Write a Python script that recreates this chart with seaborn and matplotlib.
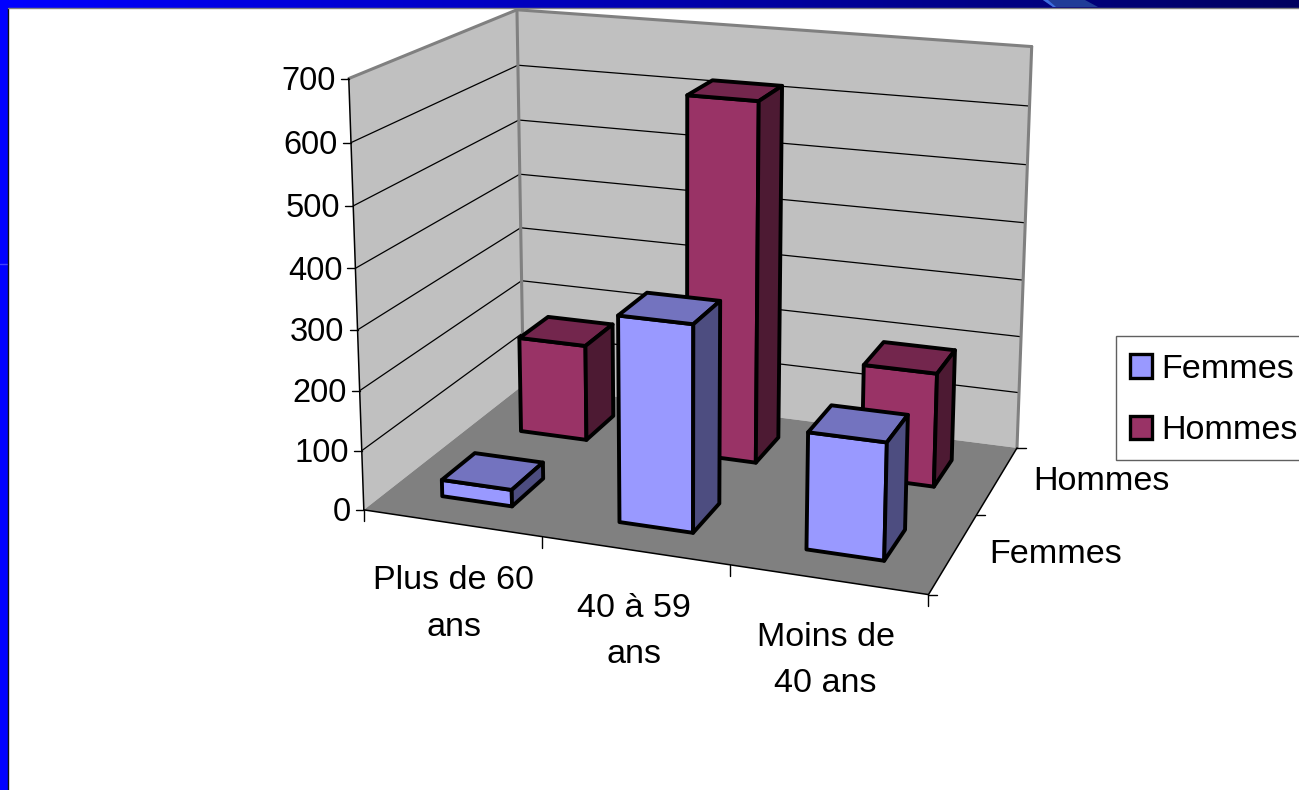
import numpy as np
import matplotlib
matplotlib.use('Agg')
import matplotlib.pyplot as plt
from matplotlib.colors import LinearSegmentedColormap
from matplotlib.patches import Patch, Rectangle, Polygon
import seaborn as sns

# data
categories = ['Plus de 60\nans', '40 à 59\nans', 'Moins de\n40 ans']
series = ['Femmes', 'Hommes']
femmes = [28, 340, 190]
hommes = [170, 622, 195]
z_ticks = [0, 100, 200, 300, 400, 500, 600, 700]

sns.set_theme(style='white')
plt.rcParams['font.family'] = ['Liberation Sans', 'DejaVu Sans']
plt.rcParams['text.color'] = 'black'
FS = 24.6
colors = sns.color_palette(['#9999FF', '#993366'])

# where the corners of the 3d box land in the picture, (cat, series, value) -> pixel
corners = [((0, 0, 0), (365, 510)), ((3, 0, 0), (928, 595)), ((3, 2, 0), (1018, 447)),
           ((0, 2, 0), (522, 385)), ((0, 0, 700), (348, 78)), ((0, 2, 700), (518, 10)),
           ((3, 2, 700), (1032, 45)), ((3, 2, 600), (1029, 108)), ((3, 2, 500), (1027, 165))]
A, b = [], []
for (X, Y, Z), (u, v) in corners:
    A.append([X, Y, Z, 1, 0, 0, 0, 0, -u * X, -u * Y, -u * Z])
    A.append([0, 0, 0, 0, X, Y, Z, 1, -v * X, -v * Y, -v * Z])
    b += [u, v]
P = np.append(np.linalg.lstsq(np.array(A, float), np.array(b, float), rcond=None)[0], 1).reshape(3, 4)


def proj(X, Y, Z):
    u, v, w = P @ np.array([X, Y, Z, 1.0])
    return u / w, v / w


fig = plt.figure(figsize=(12.99, 7.9), dpi=100)
ax = fig.add_axes([0, 0, 1, 1])

# slide background
cmap = LinearSegmentedColormap.from_list('frame', ['#0000FF', '#000060'])
ax.imshow(np.linspace(0, 1, 400).reshape(1, -1), cmap=cmap, extent=(0, 1299, 790, 0), aspect='auto', zorder=0)
ax.add_patch(Polygon([(1043, 0), (1085, 0), (1098, 7), (1053, 7)], fc='#203C98', ec='none', zorder=1))
ax.add_patch(Polygon([(1043, 0), (1048, 0), (1056, 7), (1053, 7)], fc='#3C6CE0', ec='none', zorder=1))
ax.add_patch(Rectangle((0, 0), 8, 790, fc='#0000FF', ec='none', zorder=1))
ax.plot([0, 8], [264, 264], color='#4040FF', lw=1, zorder=2)
ax.add_patch(Rectangle((8, 8), 1291, 782, fc='white', ec='none', zorder=1))
ax.plot([8.5, 8.5], [8, 790], color='#101010', lw=1, zorder=2)
ax.plot([8, 1299], [8, 8], color='#808080', lw=1, zorder=2)


def face(pts, color, z=3, ec='none', lw=0):
    ax.add_patch(Polygon([proj(*p) for p in pts], closed=True, fc=color, ec=ec, lw=lw, zorder=z, joinstyle='round'))


def line(p, q, color='black', lw=1, z=4):
    a, c = proj(*p), proj(*q)
    ax.plot([a[0], c[0]], [a[1], c[1]], color=color, lw=lw, zorder=z, solid_capstyle='round')


# walls and floor
face([(0, 0, 0), (0, 2, 0), (0, 2, 700), (0, 0, 700)], '#C0C0C0')
face([(0, 2, 0), (3, 2, 0), (3, 2, 700), (0, 2, 700)], '#C0C0C0')
face([(0, 0, 0), (3, 0, 0), (3, 2, 0), (0, 2, 0)], '#808080')
for z in z_ticks[1:-1]:
    line((0, 0, z), (0, 2, z), lw=0.9)
    line((0, 2, z), (3, 2, z), lw=0.9)
for p, q in [((0, 0, 700), (0, 2, 700)), ((0, 2, 700), (3, 2, 700)), ((0, 2, 0), (0, 2, 700)), ((3, 2, 0), (3, 2, 700))]:
    line(p, q, color='#808080', lw=2.2, z=5)

# axis lines and ticks
line((0, 0, 0), (0, 0, 700), lw=1.1, z=6)
line((0, 0, 0), (3, 0, 0), lw=1.1, z=6)
line((3, 0, 0), (3, 2, 0), lw=1.1, z=6)
for z in z_ticks:
    x, y = proj(0, 0, z)
    ax.plot([x - 8, x], [y, y], color='black', lw=1, zorder=6)
    ax.text(x - 13, y + 3, str(z), ha='right', va='center', fontsize=23.5, color='black', zorder=7)
for i in range(4):
    x, y = proj(i, 0, 0)
    ax.plot([x, x], [y, y + 11], color='black', lw=1, zorder=6)
for i in range(3):
    x, y = proj(3, i, 0)
    ax.plot([x, x + 9], [y, y], color='black', lw=1, zorder=6)

# category and series labels
label_dx = [2, 0, -2]
for i, name in enumerate(categories):
    x, y = proj(i + 0.5, 0, 0)
    ax.text(x + label_dx[i], y + 81, name, ha='center', va='center', fontsize=FS, linespacing=1.65, zorder=7)
for j, name in enumerate(series):
    x, y = proj(3, j + 0.5, 0)
    ax.text(x + 36, y + 1, name, ha='left', va='center', fontsize=FS, zorder=7)


def darker(c, k):
    return tuple(v * k for v in c)


# bars, back row first
BW = 0.4
zo = 10
for j, vals in [(1, hommes), (0, femmes)]:
    for i, h in enumerate(vals):
        x0, x1 = i + 0.5 - BW / 2, i + 0.5 + BW / 2
        y0, y1 = j + 0.5 - BW / 2, j + 0.5 + BW / 2
        edge = dict(ec='black', lw=2.8, z=zo)
        face([(x0, y0, 0), (x1, y0, 0), (x1, y0, h), (x0, y0, h)], colors[j], **edge)
        face([(x0, y0, h), (x1, y0, h), (x1, y1, h), (x0, y1, h)], darker(colors[j], 0.75), **edge)
        face([(x1, y0, 0), (x1, y1, 0), (x1, y1, h), (x1, y0, h)], darker(colors[j], 0.5), **edge)
        zo += 1

ax.set_xlim(0, 1299)
ax.set_ylim(790, 0)
ax.axis('off')

# legend box runs off the right edge like in the slide
ax.add_patch(Rectangle((1116, 336), 190, 124, fc='white', ec='#606060', lw=1, zorder=29))
handles = [Patch(fc=colors[k], ec='black', lw=2.4, label=series[k]) for k in range(2)]
leg = ax.legend(handles=handles, loc='upper left', bbox_to_anchor=(1130, 354), bbox_transform=ax.transData,
                borderaxespad=0, fontsize=FS, frameon=False,
                handlelength=0.63, handleheight=0.66, handletextpad=0.29, labelspacing=0.88, borderpad=0)
leg.set_zorder(30)

fig.savefig('out.png', dpi=100)
